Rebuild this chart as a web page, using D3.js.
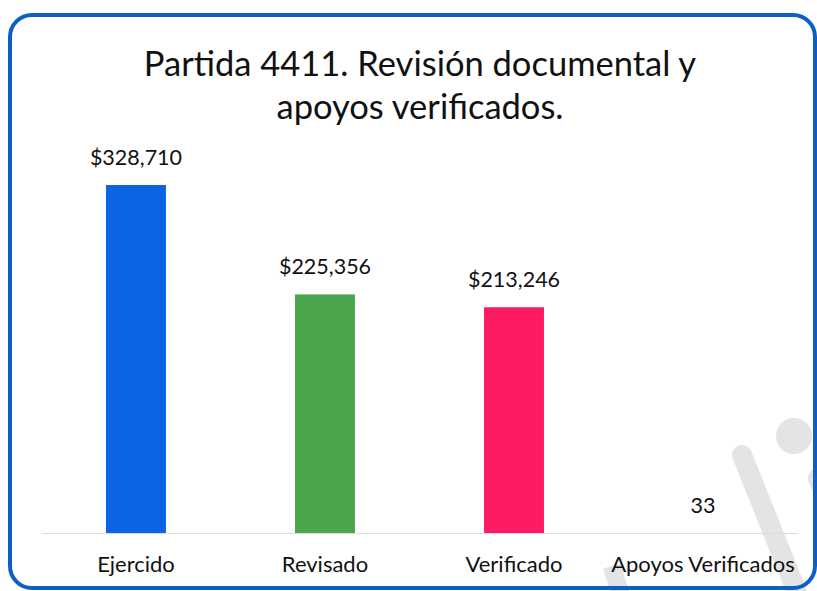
<!DOCTYPE html>
<html>
<head>
<meta charset="utf-8">
<script src="https://cdn.jsdelivr.net/npm/d3@7"></script>
<style>
  body { margin: 0; background: #fff; }
  svg { display: block; font-family: Lato, "Open Sans", sans-serif; }
  .titulo { font-size: 34.5px; fill: #111; text-anchor: middle; }
  .cifras { font-size: 21.5px; fill: #111; text-anchor: middle; }
  .categoria { font-size: 22px; fill: #111; text-anchor: middle; }
</style>
</head>
<body>
<div id="chart-area"></div>
<script>
// Datos
var categorias = ["Ejercido", "Revisado", "Verificado", "Apoyos Verificados"];
var valores = [328710, 225356, 213246, 33];
var etiquetas = ["$328,710", "$225,356", "$213,246", "33"];
var colores = ["#0a64e4", "#4aa64c", "#ff1a64", "#ffffff"];
var titulo = ["Partida 4411. Revisión documental y", "apoyos verificados."];

var W = 817, H = 591;
var baseY = 533, topY = 185;

var svg = d3.select("#chart-area")
    .append("svg")
    .attr("width", W)
    .attr("height", H);

svg.append("rect").attr("width", W).attr("height", H).attr("fill", "#fff");

// marca de agua (gris claro)
var marca = svg.append("g").attr("fill", "#e4e4e4").attr("stroke", "#e4e4e4");
marca.append("circle").attr("cx", 794).attr("cy", 436).attr("r", 18).attr("stroke", "none");
marca.append("line").attr("x1", 742).attr("y1", 455).attr("x2", 800).attr("y2", 600)
    .attr("stroke-width", 20).attr("stroke-linecap", "round");
marca.append("line").attr("x1", 818).attr("y1", 478).attr("x2", 840).attr("y2", 530)
    .attr("stroke-width", 20).attr("stroke-linecap", "round");
marca.append("line").attr("x1", 612).attr("y1", 566).attr("x2", 622).attr("y2", 600)
    .attr("stroke-width", 18);

// Escalas
var xScale = d3.scaleBand()
    .domain(categorias)
    .range([41, 798])
    .paddingInner(0.683)
    .paddingOuter(0.344);

var yScale = d3.scaleLinear()
    .domain([0, d3.max(valores)])
    .range([baseY, topY]);

// eje inferior tenue
var bottomAxis = d3.axisBottom(xScale).tickSize(0).tickFormat("");
var ejeX = svg.append("g")
    .attr("transform", "translate(0," + baseY + ")")
    .call(bottomAxis);
ejeX.select(".domain").attr("stroke", "#dcdcdc").attr("stroke-width", 1);

// Barras
svg.selectAll(".barra")
    .data(valores)
    .enter()
    .append("rect")
    .attr("class", "barra")
    .attr("x", function(d, i){ return xScale(categorias[i]); })
    .attr("y", function(d){ return yScale(d); })
    .attr("width", xScale.bandwidth())
    .attr("height", function(d){ return baseY - yScale(d); })
    .attr("fill", function(d, i){ return colores[i]; });

// Cifras
svg.selectAll(".cifras")
    .data(valores)
    .enter()
    .append("text")
    .attr("class", "cifras")
    .text(function(d, i){ return etiquetas[i]; })
    .attr("x", function(d, i){ return xScale(categorias[i]) + xScale.bandwidth() / 2; })
    .attr("y", function(d){ return yScale(d) - 20; });

// Categorias
svg.selectAll(".categoria")
    .data(categorias)
    .enter()
    .append("text")
    .attr("class", "categoria")
    .text(function(d){ return d; })
    .attr("x", function(d){ return xScale(d) + xScale.bandwidth() / 2; })
    .attr("y", 572);

// Titulo
svg.selectAll(".titulo")
    .data(titulo)
    .enter()
    .append("text")
    .attr("class", "titulo")
    .text(function(d){ return d; })
    .attr("x", 420)
    .attr("y", function(d, i){ return 76 + i * 43; });

// Marco
svg.append("rect")
    .attr("x", 10).attr("y", 15)
    .attr("width", 805).attr("height", 573)
    .attr("rx", 22).attr("ry", 22)
    .attr("fill", "none")
    .attr("stroke", "#0d5fc6")
    .attr("stroke-width", 4);
</script>
</body>
</html>
